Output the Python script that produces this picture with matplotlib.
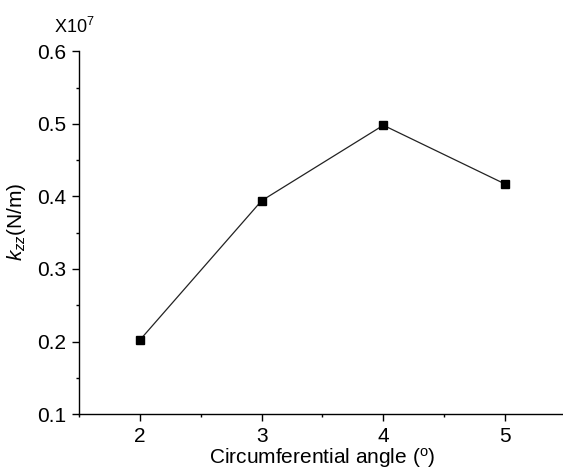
import numpy as np
import matplotlib
matplotlib.use('Agg')
import matplotlib.pyplot as plt
import matplotlib.ticker as mticker

# data (k_zz in units of 1e7 N/m)
angles = [2, 3, 4, 5]
kzz    = [0.202, 0.394, 0.498, 0.417]

plt.rcParams['font.family'] = ['Liberation Sans', 'DejaVu Sans']
plt.rcParams['mathtext.fontset'] = 'custom'
plt.rcParams['mathtext.rm'] = 'Liberation Sans'
plt.rcParams['mathtext.it'] = 'Liberation Sans:italic'

fig = plt.figure(figsize=(5.63, 4.70), dpi=100)
ax = fig.add_axes([0.1403, 0.119, 0.865, 0.772])

ax.plot(angles, kzz, color='#222222', linewidth=0.9,
        marker='s', markersize=6, markerfacecolor='black',
        markeredgecolor='black')

ax.set_xlim(1.5, 5.5)
ax.set_ylim(0.1, 0.6)
ax.xaxis.set_major_locator(mticker.MultipleLocator(1))
ax.xaxis.set_minor_locator(mticker.MultipleLocator(0.5))
ax.yaxis.set_major_locator(mticker.MultipleLocator(0.1))
ax.yaxis.set_minor_locator(mticker.MultipleLocator(0.05))
ax.yaxis.set_major_formatter(mticker.FormatStrFormatter('%.1f'))

ax.spines['top'].set_visible(False)
ax.spines['right'].set_visible(False)
for s in ('left', 'bottom'):
    ax.spines[s].set_linewidth(1.0)

ax.tick_params(which='major', direction='out', length=5, width=1.0,
               labelsize=15)
ax.tick_params(axis='y', which='major', pad=4)
ax.tick_params(axis='x', which='major', pad=4.5)
ax.tick_params(which='minor', direction='out', length=2.5, width=1.0)

ax.set_xlabel(r'Circumferential angle ($^{\mathrm{o}}$)', fontsize=15, labelpad=0)
ax.set_ylabel(r'$k_{zz}$(N/m)', fontsize=15)
ax.yaxis.set_label_coords(-0.105, 0.53)

ax.text(-0.009, 1.05, r'X10$^{7}$', transform=ax.transAxes,
        fontsize=13, ha='center', va='baseline')

fig.savefig('out.png', dpi=100)
